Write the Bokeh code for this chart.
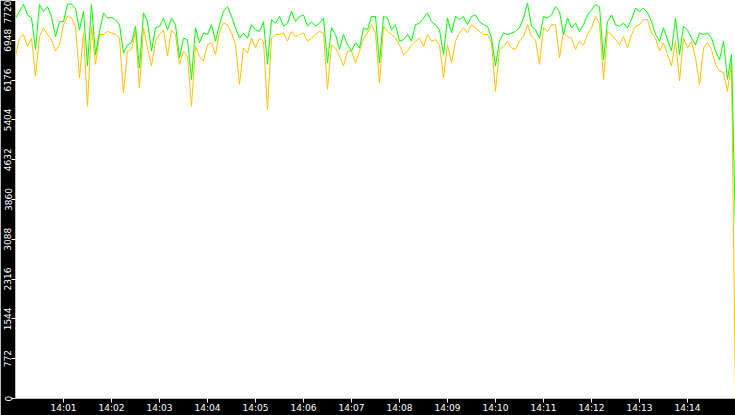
from datetime import datetime, timedelta

from bokeh.plotting import figure
from bokeh.models import Range1d, FixedTicker, DatetimeTickFormatter, ColumnDataSource
from bokeh.embed import file_html
from bokeh.resources import INLINE

# one sample every 5 seconds from 14:00:00 to 14:15:00
start_time = "14:00:00"
step_seconds = 5

green_values = [
    7380, 7510, 7650, 7440, 7380, 6770, 7640, 7510, 7600, 7410, 7020, 7310, 7310, 7650, 7650, 7570, 7150, 7510, 6450, 7640, 6670, 7120, 7480,
    7380, 7390, 7350, 7250, 6700, 6860, 6900, 7220, 6410, 7480, 7310, 6740, 7190, 7220, 7380, 7150, 7380, 7250, 6610, 6990, 6960, 6190,
    7190, 6900, 7090, 7060, 7250, 6930, 7250, 7510, 7600, 7410, 7190, 6990, 7090, 6990, 7250, 7150, 7120, 7310, 6480, 7350, 7280, 7410, 7220,
    7280, 7510, 7310, 7410, 7440, 7220, 7310, 7220, 7280, 7380, 6510, 7190, 7060, 6770, 7060, 6860, 6740, 6900, 6800, 7190, 7150, 7410,
    7410, 6510, 7410, 7380, 7150, 7250, 6930, 6960, 7060, 6930, 7250, 7280, 7380, 7480, 7310, 7250, 7150, 6670, 7380, 7090, 7410, 7350, 7410,
    7250, 7410, 7440, 7310, 7250, 7220, 6990, 6450, 6930, 7090, 7060, 7090, 7120, 7190, 7380, 7670, 7220, 7150, 6990, 7410, 7380, 7440,
    7600, 7510, 7060, 7380, 7190, 7280, 7120, 7250, 7440, 7540, 7640, 7600, 6570, 7310, 7440, 7250, 7220, 7280, 7190, 7350, 7570, 7510, 7570,
    7480, 7310, 7060, 6930, 7190, 6960, 6740, 7380, 6670, 7220, 7150, 6990, 6860, 7090, 7060, 7090, 6990, 6740, 6570, 6930, 6190, 6670,
    3280,
]

orange_values = [
    6640, 6990, 7060, 6830, 6990, 6250, 7020, 7190, 7060, 6960, 6740, 6860, 7250, 7410, 7380, 7220, 6220, 7090, 5670, 7220, 6480, 7060, 7060,
    7120, 7090, 7060, 6990, 5930, 6740, 6770, 7120, 6030, 7190, 6800, 6450, 6930, 7060, 7150, 6640, 7150, 7060, 6480, 6740, 6640, 5670,
    6830, 6640, 6540, 6860, 6900, 6670, 7120, 7280, 7250, 7090, 6860, 6090, 6800, 6700, 6990, 6800, 6990, 6930, 5610, 6990, 7060, 7060, 7090,
    6930, 7120, 7020, 7060, 7090, 6930, 6990, 7060, 7120, 7090, 6000, 6860, 6800, 6640, 6450, 6740, 6740, 6510, 6740, 6990, 7090, 7250,
    7090, 6120, 7220, 7120, 7060, 6990, 6860, 6670, 6740, 6860, 6930, 6990, 6830, 7060, 6930, 6960, 6860, 6220, 6860, 6510, 6930, 7090, 7190,
    7090, 7250, 7190, 7120, 7060, 7060, 6900, 5960, 6770, 6830, 6930, 6800, 6770, 6930, 7020, 7250, 7020, 6960, 6480, 7190, 7120, 7250,
    7250, 6610, 7120, 7020, 6990, 6770, 6930, 6860, 7060, 7190, 7410, 7280, 6190, 7120, 7060, 6960, 6860, 7020, 6800, 7060, 7220, 7250, 7350,
    7350, 7090, 6990, 6740, 6900, 6670, 6450, 6930, 6160, 6990, 6800, 6930, 6610, 6090, 6800, 6900, 6770, 6480, 6350, 6320, 5960, 6510,
    0,
]

y_ticks = [0, 772, 1544, 2316, 3088, 3860, 4632, 5404, 6176, 6948, 7720]
x_tick_labels = ["14:01", "14:02", "14:03", "14:04", "14:05", "14:06", "14:07",
                 "14:08", "14:09", "14:10", "14:11", "14:12", "14:13", "14:14"]
x_start, x_end = "14:00", "14:15"

day = "2024-01-01 "


def to_dt(hm):
    fmt = "%Y-%m-%d %H:%M:%S" if hm.count(":") == 2 else "%Y-%m-%d %H:%M"
    return datetime.strptime(day + hm, fmt)


t0 = to_dt(start_time)
times = [t0 + timedelta(seconds=step_seconds * i) for i in range(len(green_values))]
source = ColumnDataSource(data=dict(t=times, green=green_values, orange=orange_values))

p = figure(width=735, height=415, x_axis_type="datetime",
           x_range=Range1d(to_dt(x_start), to_dt(x_end)),
           y_range=Range1d(0, 7720),
           output_backend="svg", toolbar_location=None,
           background_fill_color="white", border_fill_color="black",
           min_border_left=15, min_border_bottom=16, min_border_top=0, min_border_right=0)

p.line("t", "orange", source=source, line_color="#ffc000", line_width=1)
p.line("t", "green", source=source, line_color="#00ff00", line_width=1)

p.grid.visible = False
p.outline_line_color = None

p.xaxis.ticker = FixedTicker(ticks=[to_dt(s).timestamp() * 1000 for s in x_tick_labels])
p.xaxis.formatter = DatetimeTickFormatter(minutes="%H:%M", hours="%H:%M", minsec="%H:%M")
p.yaxis.ticker = FixedTicker(ticks=y_ticks)
p.yaxis.major_label_orientation = "vertical"

for ax in (p.xaxis, p.yaxis):
    ax.axis_line_color = None
    ax.major_tick_line_color = "white"
    ax.major_tick_out = 4
    ax.major_tick_in = 0
    ax.minor_tick_line_color = None
    ax.major_label_text_color = "white"
    ax.major_label_text_font = "DejaVu Sans"
    ax.major_label_text_font_size = "9px"
    ax.major_label_standoff = 0

open("out.html", "w").write(file_html(p, INLINE))
